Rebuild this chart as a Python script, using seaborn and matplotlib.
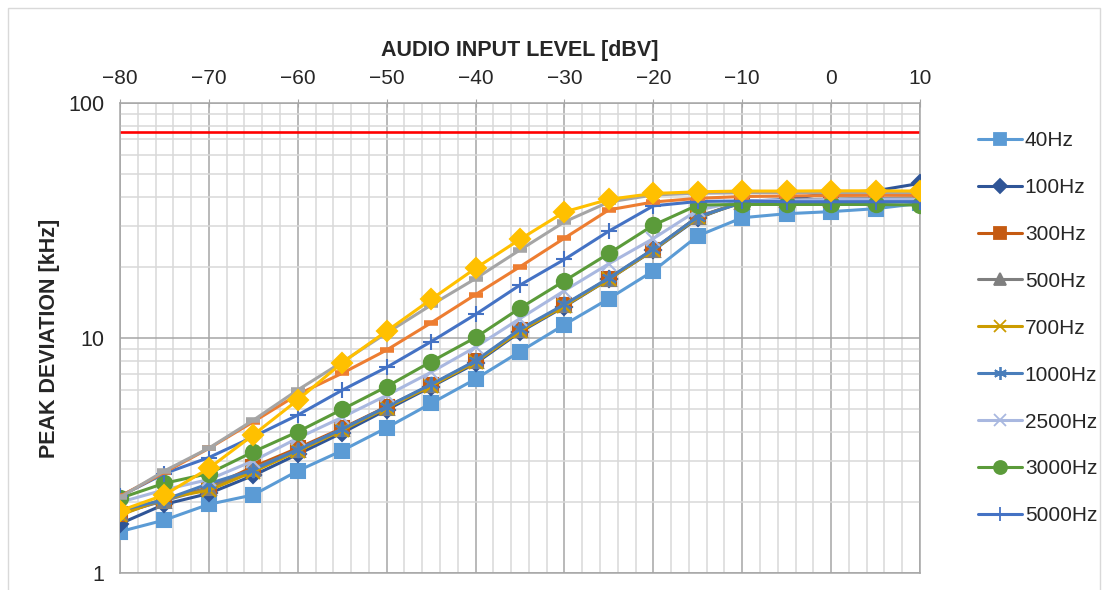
import numpy as np
import pandas as pd
import seaborn as sns
import matplotlib.pyplot as plt
from matplotlib.patches import Rectangle
from matplotlib.lines import Line2D

# input level (dBV)
levels = list(range(-80, 11, 5))

# peak deviation (kHz) per modulating frequency
f40 = [1.50, 1.68, 1.96, 2.15, 2.72, 3.32, 4.15, 5.27, 6.69, 8.75, 11.4, 14.7, 19.3, 27.2, 32.5, 33.8, 34.5, 35.5, 37.4]
f100 = [1.62, 1.96, 2.18, 2.60, 3.20, 3.95, 4.95, 6.20, 7.80, 10.6, 13.6, 17.8, 23.6, 32.3, 38.2, 38.8, 41.5, 42.3, 45.5]
f300 = [1.78, 2.05, 2.31, 2.83, 3.40, 4.13, 5.10, 6.30, 7.95, 10.8, 13.8, 17.9, 23.8, 32.8, 37.8, 38.5, 38.8, 39.0, 39.0]
f500 = [1.80, 2.03, 2.30, 2.78, 3.35, 4.10, 5.05, 6.30, 7.95, 10.8, 13.8, 17.9, 23.8, 32.8, 38.0, 38.6, 39.0, 39.2, 39.5]
f700 = [1.76, 2.08, 2.25, 2.70, 3.30, 4.05, 5.05, 6.25, 7.90, 10.7, 13.7, 17.8, 23.7, 32.6, 37.8, 38.3, 38.6, 38.8, 39.0]
f1000 = [1.85, 2.05, 2.40, 2.75, 3.35, 4.10, 5.10, 6.35, 8.00, 10.9, 13.9, 18.0, 23.9, 32.8, 37.6, 38.0, 38.3, 38.5, 38.5]
f2500 = [2.00, 2.26, 2.50, 3.00, 3.75, 4.60, 5.70, 7.15, 9.15, 12.1, 15.9, 20.7, 26.5, 35.0, 38.3, 38.6, 38.8, 39.0, 39.0]
f3000 = [2.08, 2.41, 2.65, 3.28, 3.99, 4.97, 6.21, 7.93, 10.05, 13.4, 17.5, 22.9, 30.2, 36.8, 37.0, 37.0, 37.0, 37.0, 36.8]
f5000 = [2.12, 2.65, 3.10, 3.80, 4.70, 6.00, 7.50, 9.65, 12.6, 16.8, 21.6, 28.5, 36.5, 38.1, 38.3, 38.0, 38.0, 38.0, 38.0]

# three more series are drawn in the plot but cut from the legend
extra_orange = [2.12, 2.68, 3.39, 4.40, 5.75, 7.08, 8.89, 11.6, 15.3, 20.1, 26.6, 35.1, 37.9, 39.3, 40.0, 40.2, 40.4, 40.5, 40.5]
extra_gray = [2.10, 2.72, 3.40, 4.47, 6.01, 7.90, 10.5, 13.8, 17.9, 23.7, 31.2, 37.9, 40.6, 41.3, 41.5, 41.6, 41.6, 41.6, 41.6]
extra_yellow = [1.84, 2.15, 2.79, 3.87, 5.45, 7.85, 10.7, 14.6, 19.8, 26.3, 34.4, 38.9, 41.2, 41.9, 42.2, 42.2, 42.3, 42.3, 42.2]

limit_khz = 75

series = [
    ('40Hz', f40, '#5B9BD5', 's', 10),
    ('100Hz', f100, '#2F5597', 'D', 8),
    ('300Hz', f300, '#C55A11', 's', 10),
    ('500Hz', f500, '#7F7F7F', '^', 10),
    ('700Hz', f700, '#CC9C00', 'x', 10),
    ('1000Hz', f1000, '#4A7EBB', (6, 2, 0), 11),
    ('2500Hz', f2500, '#A9B8E0', 'x', 10),
    ('3000Hz', f3000, '#5B9B3A', 'o', 11),
    ('5000Hz', f5000, '#4472C4', '+', 12),
    ('_extra_orange', extra_orange, '#ED7D31', '_', 10),
    ('_extra_gray', extra_gray, '#A5A5A5', '_', 10),
    ('_extra_yellow', extra_yellow, '#FFC000', 'D', 10),
]

rows = []
for name, vals, *_ in series:
    for lv, v in zip(levels, vals):
        rows.append({'series': name, 'level': lv, 'dev': v})
df = pd.DataFrame(rows)

sns.set_style('white')
plt.rcParams['font.family'] = ['Liberation Sans', 'DejaVu Sans']

fig = plt.figure(figsize=(11.09, 5.90), dpi=100)
ax = fig.add_axes([120 / 1109, 17 / 590, 800 / 1109, 470 / 590])

for name, vals, color, marker, ms in series:
    sub = df[df['series'] == name]
    mew = 4 if marker == '_' else 1.5
    sns.lineplot(data=sub, x='level', y='dev', ax=ax, color=color, lw=2.2,
                 marker=marker, markersize=ms, markeredgecolor=color,
                 markeredgewidth=mew, label=name, zorder=3)

ax.axhline(limit_khz, color='#FF0000', lw=1.9, zorder=2)

ax.set_yscale('log')
ax.set_ylim(1, 100)
ax.set_xlim(-80, 10)
ax.set_xticks(range(-80, 11, 10))
ax.set_yticks([1, 10, 100])
ax.set_yticklabels(['1', '10', '100'])
ax.set_xticks(np.arange(-80, 11, 2), minor=True)
ax.yaxis.set_minor_formatter(plt.NullFormatter())

ax.xaxis.tick_top()
ax.xaxis.set_label_position('top')
ax.grid(which='major', color='#A6A6A6', lw=1.1, zorder=0)
ax.grid(which='minor', color='#D9D9D9', lw=1.1, zorder=0)
ax.set_axisbelow(True)
ax.tick_params(axis='both', which='major', labelsize=15, length=6,
               direction='inout', color='#A6A6A6')
ax.tick_params(axis='x', which='major', pad=7.5)
ax.tick_params(axis='y', which='major', pad=8.5, labelsize=15.5)
ax.tick_params(axis='both', which='minor', length=0)
for side in ax.spines:
    ax.spines[side].set_color('#A6A6A6')
    ax.spines[side].set_linewidth(1.1)

ax.set_xlabel('AUDIO INPUT LEVEL [dBV]', fontsize=15.5, fontweight='bold', labelpad=9.5)
ax.set_ylabel('PEAK DEVIATION [kHz]', fontsize=15.5, fontweight='bold', labelpad=6)

ax.get_legend().remove()
handles = [Line2D([], [], color=c, lw=2.2, marker=m, markersize=ms * 0.85,
                  markeredgecolor=c, markeredgewidth=1.3)
           for n, v, c, m, ms in series if not n.startswith('_')]
labels = [n for n, *_ in series if not n.startswith('_')]
fig.legend(handles, labels, loc='upper left', bbox_to_anchor=(978 / 1109, 1 - 131 / 590),
           frameon=False, fontsize=15, handlelength=2.1, handletextpad=0.15,
           labelspacing=1.34, borderaxespad=0, borderpad=0)

fig.patches.append(Rectangle((8 / 1109, -0.1), 1092 / 1109, 1.1 - 8 / 590,
                             transform=fig.transFigure, fill=False,
                             edgecolor='#D9D9D9', lw=1))

fig.savefig('out.png', dpi=100)
